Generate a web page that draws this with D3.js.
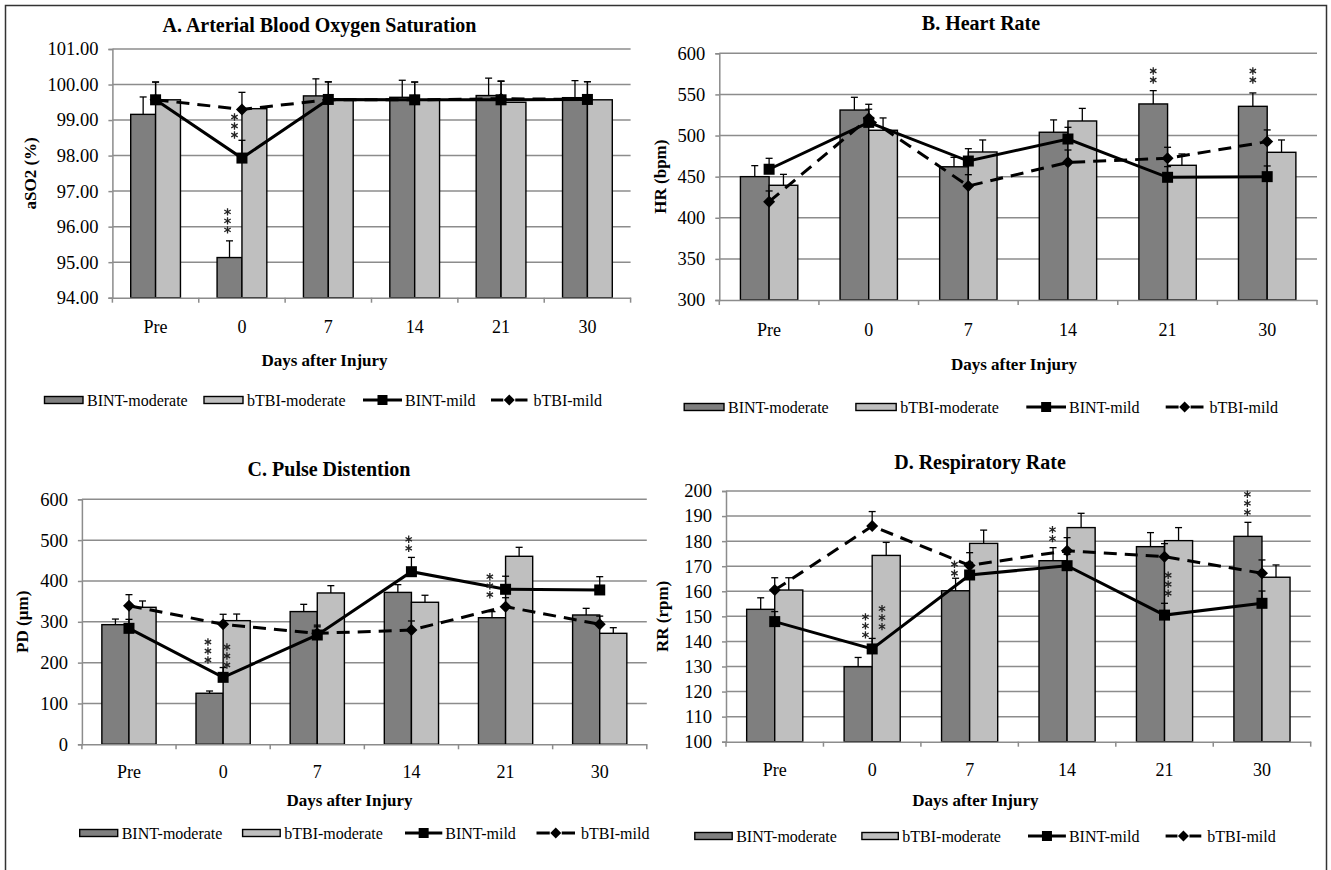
<!DOCTYPE html>
<html><head><meta charset="utf-8">
<script src="https://cdn.jsdelivr.net/npm/d3@7"></script>
<style>body{margin:0;background:#fff}svg{display:block}</style>
</head><body>
<svg id="c" width="1331" height="870"></svg>
<script>
// ---------- data ----------
const categories = ["Pre", "0", "7", "14", "21", "30"];
const seriesNames = ["BINT-moderate", "bTBI-moderate", "BINT-mild", "bTBI-mild"];

// A. aSO2 (%)
const aBintModerate    = [99.16, 95.13, 99.68, 99.64, 99.69, 99.63];
const aBintModerateErr = [0.49, 0.47, 0.48, 0.48, 0.49, 0.48];
const aBtbiModerate    = [99.57, 99.32, 99.58, 99.57, 99.50, 99.57];
const aBtbiModerateErr = [0, 0, 0, 0, 0, 0];
const aBintMild        = [99.57, 97.93, 99.58, 99.57, 99.57, 99.58];
const aBintMildErr     = [0.50, 0.50, 0.50, 0.50, 0.52, 0.50];
const aBtbiMild        = [99.57, 99.30, 99.57, 99.57, 99.60, 99.58];
const aBtbiMildErr     = [0.50, 0.48, 0.50, 0.50, 0.50, 0.50];
const aYTicks = [94, 95, 96, 97, 98, 99, 100, 101];

// B. HR (bpm)
const bBintModerate    = [450, 531, 462, 504, 538.4, 535.5];
const bBintModerateErr = [13.4, 15.5, 11.5, 15, 16.2, 16.3];
const bBtbiModerate    = [439.5, 506.4, 480, 517.7, 463.8, 479.6];
const bBtbiModerateErr = [13.3, 15, 14.6, 15.3, 13.8, 15];
const bBintMild        = [459, 516, 469, 495.8, 449.2, 450];
const bBintMildErr     = [13.3, 16, 15, 14.2, 13, 13];
const bBtbiMild        = [419.6, 521, 438.6, 467.4, 472.3, 492.6];
const bBtbiMildErr     = [13, 17, 13.8, 15, 13.4, 14.2];
const bYTicks = [300, 350, 400, 450, 500, 550, 600];

// C. PD (µm)
const cBintModerate    = [293, 125, 325, 372, 310, 316.7];
const cBintModerateErr = [13.7, 5.5, 17.8, 19, 14.8, 16.3];
const cBtbiModerate    = [335.5, 302.8, 370.6, 347.8, 460.4, 271.8];
const cBtbiModerateErr = [15.5, 16.2, 17.9, 17.2, 22, 13.8];
const cBintMild        = [284, 164, 267.7, 422.7, 379.6, 378];
const cBintMildErr     = [22, 24, 20, 35, 32, 32.5];
const cBtbiMild        = [339.5, 293.9, 271.8, 280, 337, 293.9];
const cBtbiMildErr     = [27, 24.5, 20, 22, 22, 20];
const cYTicks = [0, 100, 200, 300, 400, 500, 600];

// D. RR (rpm)
const dBintModerate    = [152.8, 129.9, 160.2, 172.2, 177.8, 181.9];
const dBintModerateErr = [4.6, 3.7, 5, 5.2, 5.6, 5.6];
const dBtbiModerate    = [160.5, 174.3, 179.1, 185.4, 180.2, 165.6];
const dBtbiModerateErr = [4.9, 5.2, 5.3, 5.7, 5.2, 4.9];
const dBintMild        = [147.9, 137, 166.5, 170.2, 150.5, 155.2];
const dBintMildErr     = [4, 4.2, 5, 4.5, 4.7, 4.9];
const dBtbiMild        = [160.5, 186, 170.3, 176.2, 173.8, 167.2];
const dBtbiMildErr     = [4.9, 5.8, 5.1, 5.2, 5.2, 5.3];
const dYTicks = [100, 110, 120, 130, 140, 150, 160, 170, 180, 190, 200];

// significance marks: category, number of asterisks, value where the stack starts, offset (bar widths)
const aStars = [{cat: "0", n: 3, v: 95.91, off: -0.58}, {cat: "0", n: 3, v: 98.58, off: -0.3}];
const bStars = [{cat: "21", n: 2, v: 567.5, off: -0.5}, {cat: "30", n: 2, v: 567.5, off: -0.5}];
const cStars = [{cat: "0", n: 3, v: 206.5, off: -0.56}, {cat: "0", n: 3, v: 194.2, off: 0.14},
                {cat: "14", n: 2, v: 480, off: -0.1}, {cat: "21", n: 3, v: 366.4, off: -0.58}];
const dStars = [{cat: "0", n: 3, v: 142.6, off: -0.24}, {cat: "0", n: 3, v: 145.9, off: 0.35},
                {cat: "7", n: 2, v: 167.2, off: -0.54}, {cat: "14", n: 2, v: 181, off: -0.52},
                {cat: "21", n: 3, v: 159.2, off: 0.13}, {cat: "30", n: 3, v: 191.5, off: -0.52}];

// ---------- drawing ----------
const svg = d3.select("#c");
const FONT = "'Liberation Serif','Times New Roman',serif";
const DARK = "#7f7f7f", LIGHT = "#bfbfbf", GRID = "#8c8c8c";

svg.append("rect").attr("x", 5.5).attr("y", 5.5).attr("width", 1321).attr("height", 880)
  .attr("fill", "none").attr("stroke", "#333").attr("stroke-width", 1.5);

function text(g, x, y, s, o = {}) {
  return g.append("text").attr("x", x).attr("y", y).text(s)
    .attr("font-family", FONT).attr("font-size", o.size || 16)
    .attr("font-weight", o.bold ? "bold" : "normal")
    .attr("text-anchor", o.anchor || "middle").attr("dominant-baseline", "central")
    .attr("fill", "#000");
}

function squareSym(g, x, y, s) {
  g.append("rect").attr("x", x - s / 2).attr("y", y - s / 2).attr("width", s).attr("height", s).attr("fill", "#000");
}
function diamondSym(g, x, y, s) {
  const h = s / 2;
  g.append("path").attr("d", `M${x},${y - h}L${x + h},${y}L${x},${y + h}L${x - h},${y}Z`).attr("fill", "#000");
}
const starPath = d3.symbol(d3.symbolAsterisk, 38)();

function drawPanel(p) {
  const g = svg.append("g");
  const x = d3.scaleBand().domain(categories).range([p.left, p.right]);
  const y = d3.scaleLinear().domain([p.ticks[0], p.ticks[p.ticks.length - 1]]).range([p.bottom, p.top]);
  const bw = x.bandwidth() * 0.288;
  const cx = c => x(c) + x.bandwidth() / 2;

  // y axis with gridlines
  const ya = g.append("g").attr("transform", `translate(${p.left},0)`)
    .call(d3.axisLeft(y).tickValues(p.ticks).tickFormat(p.fmt).tickSize(4).tickPadding(10));
  ya.select(".domain").attr("stroke", GRID).attr("stroke-width", 1.5);
  ya.selectAll(".tick line").attr("stroke", GRID).attr("stroke-width", 1.5);
  ya.selectAll(".tick text").attr("font-family", FONT).attr("font-size", 18.5).attr("fill", "#000");
  g.append("g").selectAll("line").data(p.ticks.slice(1)).join("line")
    .attr("x1", p.left).attr("x2", p.right).attr("y1", d => y(d)).attr("y2", d => y(d))
    .attr("stroke", GRID).attr("stroke-width", 1.5);

  // bars
  const s = p.series;
  const bars = g.append("g");
  bars.selectAll("rect.d").data(s.dark).join("rect")
    .attr("x", (d, i) => cx(categories[i]) - bw).attr("width", bw)
    .attr("y", d => y(d)).attr("height", d => p.bottom - y(d))
    .attr("fill", DARK).attr("stroke", "#000").attr("stroke-width", 1.4);
  bars.selectAll("rect.l").data(s.light).join("rect")
    .attr("x", (d, i) => cx(categories[i])).attr("width", bw)
    .attr("y", d => y(d)).attr("height", d => p.bottom - y(d))
    .attr("fill", LIGHT).attr("stroke", "#000").attr("stroke-width", 1.4);

  function errBars(vals, errs, off) {
    const eg = g.append("g").attr("stroke", "#000").attr("stroke-width", 1.3);
    vals.forEach((v, i) => {
      if (!errs[i]) return;
      const xx = cx(categories[i]) + off * bw;
      eg.append("line").attr("x1", xx).attr("x2", xx).attr("y1", y(v)).attr("y2", y(v + errs[i]));
      eg.append("line").attr("x1", xx - 3.5).attr("x2", xx + 3.5).attr("y1", y(v + errs[i])).attr("y2", y(v + errs[i]));
    });
  }
  errBars(s.dark, s.darkErr, -0.5);
  errBars(s.light, s.lightErr, 0.5);

  // x axis
  const xa = g.append("g").attr("transform", `translate(0,${p.bottom})`)
    .call(d3.axisBottom(x).tickSize(0).tickSizeOuter(0));
  xa.select(".domain").attr("stroke", GRID).attr("stroke-width", 1.5);
  xa.selectAll(".tick text").attr("font-family", FONT).attr("font-size", 18)
    .attr("fill", "#000").attr("y", p.xLabelY - p.bottom).attr("dy", "0.35em");
  g.append("g").selectAll("line").data(categories.map(c => x(c)).concat([p.right])).join("line")
    .attr("x1", d => d).attr("x2", d => d).attr("y1", p.bottom).attr("y2", p.bottom + 5)
    .attr("stroke", GRID).attr("stroke-width", 1.5);

  // lines
  const line = d3.line().x((d, i) => cx(categories[i])).y(d => y(d));
  g.append("path").datum(s.sq).attr("d", line).attr("fill", "none").attr("stroke", "#000").attr("stroke-width", 3);
  g.append("path").datum(s.dia).attr("d", line).attr("fill", "none").attr("stroke", "#000").attr("stroke-width", 3)
    .attr("stroke-dasharray", "13,8");
  errBars(s.sq, s.sqErr, 0);
  errBars(s.dia, s.diaErr, 0);
  s.dia.forEach((v, i) => diamondSym(g, cx(categories[i]), y(v), 12));
  s.sq.forEach((v, i) => squareSym(g, cx(categories[i]), y(v), 11));

  // stars (asterisk symbols, stacked vertically)
  p.stars.forEach(st => {
    const xx = cx(st.cat) + st.off * bw;
    for (let k = 0; k < st.n; k++) {
      g.append("path").attr("d", starPath)
        .attr("transform", `translate(${xx},${y(st.v) - k * 9})`)
        .attr("fill", "none").attr("stroke", "#222").attr("stroke-width", 1.3);
    }
  });

  // titles
  text(g, p.titleX, p.titleY, p.title, {size: 20, bold: true});
  text(g, p.xTitleX, p.xTitleY, "Days after Injury", {size: 17, bold: true});
  const yc = (p.top + p.bottom) / 2;
  text(g, p.yTitleX, yc, p.yTitle, {size: 17, bold: true}).attr("transform", `rotate(-90,${p.yTitleX},${yc})`);

  // legend
  const L = p.legend, ly = p.legendY;
  [[DARK, 0], [LIGHT, 2]].forEach(([col, k]) => {
    g.append("rect").attr("x", L[k]).attr("y", ly - 3.5).attr("width", L[k + 1] - L[k] - 4).attr("height", 7)
      .attr("fill", col).attr("stroke", "#000").attr("stroke-width", 1.4);
  });
  const l3 = L[4], l3e = L[5] - 3;
  g.append("line").attr("x1", l3).attr("x2", l3e).attr("y1", ly).attr("y2", ly).attr("stroke", "#000").attr("stroke-width", 3);
  squareSym(g, (l3 + l3e) / 2, ly, 10);
  const l4 = L[6], l4e = L[7] - 6, m4 = (l4 + l4e) / 2;
  g.append("line").attr("x1", l4).attr("x2", m4 - 6).attr("y1", ly).attr("y2", ly).attr("stroke", "#000").attr("stroke-width", 3);
  g.append("line").attr("x1", m4 + 6).attr("x2", l4e).attr("y1", ly).attr("y2", ly).attr("stroke", "#000").attr("stroke-width", 3);
  diamondSym(g, m4, ly, 11);
  seriesNames.forEach((nm, k) => text(g, L[2 * k + 1], ly, nm, {size: 16, anchor: "start"}));
}

drawPanel({
  left: 112.4, right: 630.6, top: 49, bottom: 297.7, ticks: aYTicks, fmt: d3.format(".2f"),
  title: "A. Arterial Blood Oxygen Saturation", titleX: 319.5, titleY: 25,
  yTitle: "aSO2 (%)", yTitleX: 31, xLabelY: 327, xTitleX: 324.5, xTitleY: 360,
  legendY: 400, legend: [44.5, 87, 204, 247, 363, 405, 491, 533.5],
  series: {dark: aBintModerate, darkErr: aBintModerateErr, light: aBtbiModerate, lightErr: aBtbiModerateErr,
           sq: aBintMild, sqErr: aBintMildErr, dia: aBtbiMild, diaErr: aBtbiMildErr},
  stars: aStars
});
drawPanel({
  left: 719.3, right: 1317, top: 53.3, bottom: 300, ticks: bYTicks, fmt: d3.format("d"),
  title: "B. Heart Rate", titleX: 981, titleY: 23,
  yTitle: "HR (bpm)", yTitleX: 661, xLabelY: 330, xTitleX: 1014, xTitleY: 364,
  legendY: 407, legend: [684.2, 728, 855.9, 900.2, 1026.3, 1069, 1165.7, 1209.5],
  series: {dark: bBintModerate, darkErr: bBintModerateErr, light: bBtbiModerate, lightErr: bBtbiModerateErr,
           sq: bBintMild, sqErr: bBintMildErr, dia: bBtbiMild, diaErr: bBtbiMildErr},
  stars: bStars
});
drawPanel({
  left: 81.9, right: 646.8, top: 499.3, bottom: 744.3, ticks: cYTicks, fmt: d3.format("d"),
  title: "C. Pulse Distention", titleX: 329, titleY: 469,
  yTitle: "PD (µm)", yTitleX: 23, xLabelY: 771.7, xTitleX: 349.5, xTitleY: 800,
  legendY: 833, legend: [79.7, 121.7, 242.6, 284.2, 405, 445.3, 536.5, 581],
  series: {dark: cBintModerate, darkErr: cBintModerateErr, light: cBtbiModerate, lightErr: cBtbiModerateErr,
           sq: cBintMild, sqErr: cBintMildErr, dia: cBtbiMild, diaErr: cBtbiMildErr},
  stars: cStars
});
drawPanel({
  left: 726, right: 1310.7, top: 491, bottom: 741.7, ticks: dYTicks, fmt: d3.format("d"),
  title: "D. Respiratory Rate", titleX: 980, titleY: 462,
  yTitle: "RR (rpm)", yTitleX: 663, xLabelY: 770, xTitleX: 975.4, xTitleY: 800,
  legendY: 836, legend: [694.8, 736.2, 861.9, 902.3, 1028, 1068.9, 1165.6, 1207.3],
  series: {dark: dBintModerate, darkErr: dBintModerateErr, light: dBtbiModerate, lightErr: dBtbiModerateErr,
           sq: dBintMild, sqErr: dBintMildErr, dia: dBtbiMild, diaErr: dBtbiMildErr},
  stars: dStars
});
</script>
</body></html>
